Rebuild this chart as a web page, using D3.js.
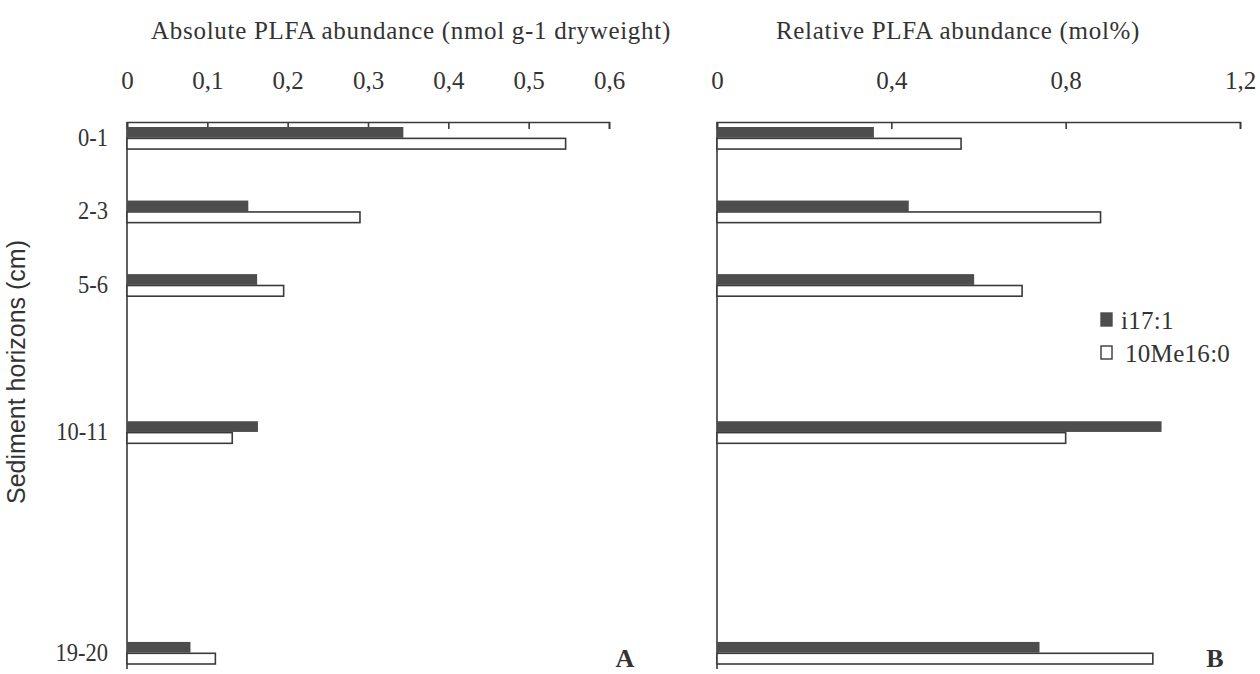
<!DOCTYPE html>
<html>
<head>
<meta charset="utf-8">
<script src="https://cdn.jsdelivr.net/npm/d3@7"></script>
<style>
  body { margin: 0; background: #fff; }
  text { fill: #333; }
</style>
</head>
<body>
<div id="chart"></div>
<script>
// sediment horizons (empty strings are unused rows in the original layout)
const horizons = ["0-1", "2-3", "5-6", "", "10-11", "", "", "19-20"];
const series = ["i17:1", "10Me16:0"];

// panel A: absolute abundance (nmol g-1 dryweight)
const absI17 = [0.344, 0.151, 0.162, null, 0.163, null, null, 0.079];
const absMe = [0.546, 0.29, 0.195, null, 0.131, null, null, 0.11];
// panel B: relative abundance (mol%)
const relI17 = [0.36, 0.44, 0.59, null, 1.02, null, null, 0.74];
const relMe = [0.56, 0.88, 0.70, null, 0.80, null, null, 1.00];

const absTicks = [0, 0.1, 0.2, 0.3, 0.4, 0.5, 0.6];
const relTicks = [0, 0.4, 0.8, 1.2];

const width = 1260, height = 674;
const axisTop = 122, axisBottom = 669;

const svg = d3.select("#chart")
  .append("svg")
    .attr("width", width)
    .attr("height", height)
    .style("background", "#fff");

const fmt = d => d === 0 ? "0" : d3.format(".1f")(d).replace(".", ",");

// rows
const y = d3.scaleBand()
  .domain(d3.range(horizons.length))
  .range([127, 664])
  .paddingInner(0.7)
  .paddingOuter(0);

const ySub = d3.scaleBand()
  .domain(series)
  .range([0, y.bandwidth()])
  .paddingInner(0.06);

const color = d3.scaleOrdinal().domain(series).range(["#4d4d4d", "#fff"]);

function panel(range, ticks, vals1, vals2, title, titleX, letter, letterX) {
  const x = d3.scaleLinear()
    .domain([0, ticks[ticks.length - 1]])
    .range(range);

  const g = svg.append("g");

  // top axis, ticks pointing down into the plot
  const ax = g.append("g")
    .attr("transform", `translate(0,${axisTop})`)
    .call(d3.axisTop(x).tickValues(ticks).tickFormat(fmt)
      .tickSizeInner(-7).tickSizeOuter(-7).tickPadding(33));
  ax.select(".domain").attr("stroke", "#3a3a3a").attr("stroke-width", 1.6);
  ax.selectAll(".tick line").attr("stroke", "#3a3a3a").attr("stroke-width", 1.6);
  ax.selectAll(".tick text")
    .attr("font-family", "'Liberation Serif', serif")
    .attr("font-size", 25)
    .attr("fill", "#333");

  // vertical axis line
  g.append("line")
    .attr("x1", x(0)).attr("x2", x(0))
    .attr("y1", axisTop).attr("y2", axisBottom)
    .attr("stroke", "#3a3a3a")
    .attr("stroke-width", 1.6);

  const rows = horizons.map((h, i) => ({i, h, v: [vals1[i], vals2[i]]}))
    .filter(d => d.h !== "");

  const grp = g.selectAll(".row")
    .data(rows)
    .join("g")
      .attr("class", "row")
      .attr("transform", d => `translate(0,${y(d.i)})`);

  grp.selectAll("rect")
    .data(d => series.map((s, k) => ({s, v: d.v[k]})))
    .join("rect")
      .attr("x", x(0))
      .attr("y", d => ySub(d.s))
      .attr("width", d => x(d.v) - x(0))
      .attr("height", ySub.bandwidth())
      .attr("fill", d => color(d.s))
      .attr("stroke", d => d.s === series[0] ? "none" : "#3a3a3a")
      .attr("stroke-width", 1.6);

  // title
  svg.append("text")
    .attr("x", titleX)
    .attr("y", 39)
    .attr("text-anchor", "middle")
    .attr("font-family", "'Liberation Serif', serif")
    .attr("font-size", 25)
    .attr("letter-spacing", 0.7)
    .text(title);

  // panel letter
  svg.append("text")
    .attr("x", letterX)
    .attr("y", 667)
    .attr("text-anchor", "middle")
    .attr("font-family", "'Liberation Serif', serif")
    .attr("font-weight", "bold")
    .attr("font-size", 26)
    .text(letter);

  return x;
}

panel([127, 609], absTicks, absI17, absMe,
  "Absolute PLFA abundance (nmol g-1 dryweight)", 411, "A", 625);
panel([717, 1240], relTicks, relI17, relMe,
  "Relative PLFA abundance (mol%)", 958, "B", 1215);

// horizon labels (tall, slightly narrow type as in the scan)
svg.append("g")
  .selectAll("text")
  .data(horizons.map((h, i) => ({h, i})).filter(d => d.h !== ""))
  .join("text")
    .attr("transform", d => `translate(108,${y(d.i) + y.bandwidth() / 2 - 1}) scale(0.9,1)`)
    .attr("dy", "0.35em")
    .attr("text-anchor", "end")
    .attr("font-family", "'Liberation Serif', serif")
    .attr("font-size", 25)
    .text(d => d.h);

// y axis title
svg.append("text")
  .attr("transform", "translate(25,372) rotate(-90)")
  .attr("text-anchor", "middle")
  .attr("font-family", "'Liberation Sans', sans-serif")
  .attr("font-size", 25)
  .attr("fill", "#555")
  .text("Sediment horizons (cm)");

// legend
const legend = svg.append("g")
  .attr("transform", "translate(1101,313)");

const legendItems = legend.selectAll(".legend-item")
  .data(series)
  .join("g")
    .attr("class", "legend-item")
    .attr("transform", (d, i) => `translate(0,${i * 33})`);

legendItems.append("rect")
  .attr("width", 11)
  .attr("height", 13)
  .attr("fill", d => color(d))
  .attr("stroke", d => d === series[0] ? "#4d4d4d" : "#3a3a3a")
  .attr("stroke-width", 1.4);

legendItems.append("text")
  .attr("x", d => d === series[0] ? 20 : 24)
  .attr("y", 7)
  .attr("dy", "0.35em")
  .attr("font-family", "'Liberation Serif', serif")
  .attr("font-size", 25)
  .attr("letter-spacing", 0.3)
  .text(d => d);
</script>
</body>
</html>
